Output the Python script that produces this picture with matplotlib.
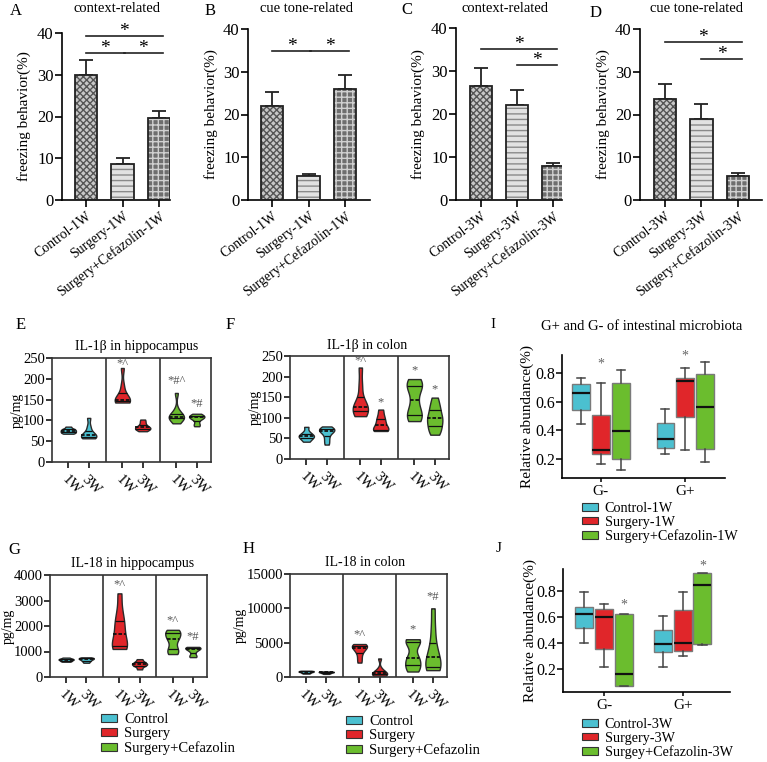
import numpy as np
import matplotlib
matplotlib.use('Agg')
import matplotlib.pyplot as plt
from matplotlib.patches import Patch

plt.rcParams['font.family'] = ['Liberation Serif', 'DejaVu Serif']
plt.rcParams['axes.linewidth'] = 1.2

# ---------------- data ----------------
groups_1w = ["Control-1W", "Surgery-1W", "Surgery+Cefazolin-1W"]
groups_3w = ["Control-3W", "Surgery-3W", "Surgery+Cefazolin-3W"]

A_mean = [30.0, 8.7, 19.7]
A_err = [3.6, 1.4, 1.7]
B_mean = [21.9, 5.5, 25.9]
B_err = [3.3, 0.6, 3.3]
C_mean = [26.6, 22.1, 7.9]
C_err = [4.2, 3.4, 0.6]
D_mean = [23.7, 19.0, 5.5]
D_err = [3.5, 3.4, 0.7]

# significance brackets: (i, j, y)
A_sig = [(0, 2, 39.4), (0, 1, 35.2), (1, 2, 35.2)]
B_sig = [(0, 1, 34.8), (1, 2, 34.8)]
C_sig = [(0, 2, 35.2), (1, 2, 31.5)]
D_sig = [(0, 2, 37.0), (1, 2, 33.0)]

violin_ticks = ["1W", "3W", "1W", "3W", "1W", "3W"]

E_data = [
    [68, 70, 72, 74, 76, 78, 80, 85],
    [57, 59, 61, 63, 66, 72, 85, 106],
    [143, 145, 146, 148, 152, 160, 183, 226],
    [74, 78, 80, 82, 84, 88, 95, 102],
    [93, 104, 106, 108, 110, 112, 125, 166],
    [86, 92, 102, 106, 108, 110, 112, 116],
]
F_data = [
    [42, 48, 52, 55, 57, 60, 66, 78],
    [35, 45, 55, 64, 68, 70, 72, 74, 79],
    [104, 110, 118, 125, 128, 140, 178, 222],
    [68, 70, 72, 78, 87, 95, 105, 120],
    [92, 100, 108, 120, 143, 170, 178, 185, 194],
    [59, 70, 80, 90, 100, 104, 120, 130, 149],
]
G_data = [
    [600, 630, 660, 680, 700, 720, 760],
    [560, 620, 660, 700, 720, 740, 770],
    [1100, 1150, 1230, 1350, 1680, 2000, 2180, 2600, 3280],
    [300, 420, 480, 500, 540, 600, 700],
    [900, 1000, 1150, 1450, 1550, 1700, 1780, 1850],
    [780, 850, 1000, 1100, 1120, 1150, 1180],
]
H_data = [
    [500, 600, 700, 750, 800, 850, 900],
    [450, 550, 620, 680, 720, 760, 800],
    [2100, 2800, 3500, 3900, 4200, 4400, 4550, 4700, 4800],
    [200, 300, 400, 500, 600, 800, 1200, 2700],
    [800, 1200, 1500, 2300, 2600, 3000, 4800, 5200, 5400, 5500],
    [1000, 1200, 1400, 2000, 2900, 3500, 5000, 7200, 10000],
]
# annotations: (index, y, text)
E_ann = [(2, 235, "*^"), (4, 194, "*#^"), (5, 140, "*#")]
F_ann = [(2, 238, "*^"), (3, 138, "*"), (4, 216, "*"), (5, 170, "*")]
G_ann = [(2, 3600, "*^"), (4, 2200, "*^"), (5, 1560, "*#")]
H_ann = [(2, 6140, "*^"), (4, 6940, "*"), (5, 11600, "*#")]

violin_legend = ["Control", "Surgery", "Surgery+Cefazolin"]

box_cats = ["G-", "G+"]
# stats per category per group: (whislo, q1, med, q3, whishi)
I_stats = {
    "G-": [(0.447, 0.544, 0.66, 0.72, 0.765),
           (0.163, 0.233, 0.26, 0.505, 0.733),
           (0.12, 0.20, 0.395, 0.73, 0.82)],
    "G+": [(0.233, 0.279, 0.342, 0.453, 0.55),
           (0.265, 0.493, 0.742, 0.767, 0.837),
           (0.18, 0.272, 0.563, 0.795, 0.877)],
}
J_stats = {
    "G-": [(0.40, 0.515, 0.62, 0.68, 0.79),
           (0.215, 0.35, 0.60, 0.66, 0.70),
           (0.068, 0.068, 0.165, 0.62, 0.625)],
    "G+": [(0.215, 0.33, 0.39, 0.50, 0.61),
           (0.30, 0.34, 0.40, 0.65, 0.79),
           (0.385, 0.39, 0.845, 0.935, 0.94)],
}
I_ann = [("G-", 1, 0.86), ("G+", 1, 0.92)]
J_ann = [("G-", 2, 0.69), ("G+", 2, 0.99)]
I_legend = ["Control-1W", "Surgery-1W", "Surgery+Cefazolin-1W"]
J_legend = ["Control-3W", "Surgery-3W", "Surgey+Cefazolin-3W"]

# ---------------- styling ----------------
COLORS = ["#4BC0D0", "#E0262A", "#6BBD2E"]
W, H = 767, 762
fig = plt.figure(figsize=(W / 100, H / 100), dpi=100)


def add_ax(l, t, r, b):
    return fig.add_axes([l / W, 1 - b / H, (r - l) / W, (b - t) / H])


def fig_text(x, y, s, **kw):
    fig.text(x / W, 1 - y / H, s, **kw)


def place_ylabel(ax, box, xpix):
    # put the y label centre at a given figure pixel column
    l, t, r, b = box
    ax.yaxis.set_label_coords((xpix - l) / (r - l), 0.5)


BAR_STYLES = [
    dict(face="#c8c8c8", hatch="xxxxx", hcol="#555555"),
    dict(face="#e2e2e2", hatch="---", hcol="#8a8a8a"),
    dict(face="#6e6e6e", hatch="+++", hcol="#d0d0d0"),
]


def bar_panel(box, xlim, means, errs, labels, sig, letter, letter_xy, title, title_xy, ylab_x):
    ax = add_ax(*box)
    x = np.arange(len(means))
    for i in range(len(means)):
        st = BAR_STYLES[i]
        ax.bar(x[i], means[i], width=0.62, color=st["face"], edgecolor=st["hcol"],
               hatch=st["hatch"], linewidth=0, zorder=2)
        ax.bar(x[i], means[i], width=0.62, facecolor="none", edgecolor="#222222",
               linewidth=1.3, zorder=3)
        ax.errorbar(x[i], means[i], yerr=[[0], [errs[i]]], fmt="none", ecolor="#222222",
                    elinewidth=1.3, capsize=5, capthick=1.3, zorder=1)
    for (i, j, y) in sig:
        a = x[i] + (0.04 if any(s[1] == i for s in sig) and j - i == 1 else 0)
        b = x[j] - (0.04 if any(s[0] == j for s in sig) and j - i == 1 else 0) + 0.1
        ax.plot([a, b], [y, y], color="#222222", lw=1.2, clip_on=False)
        ax.text((a + b) / 2, y + 1.0, "*", ha="center", va="center", fontsize=14,
                clip_on=False)
    ax.set_xlim(*xlim)
    ax.set_ylim(0, 40)
    ax.set_yticks([0, 10, 20, 30, 40])
    ax.set_xticks(x)
    ax.set_xticklabels(labels, rotation=37, ha="right", rotation_mode="anchor", fontsize=10)
    ax.tick_params(axis="y", labelsize=12, length=5, width=1.2, pad=1)
    ax.tick_params(axis="x", length=5, width=1.2, pad=2)
    for s in ["top", "right"]:
        ax.spines[s].set_visible(False)
    ax.set_ylabel("freezing behavior(%)", fontsize=11, va="center")
    place_ylabel(ax, box, ylab_x)
    fig_text(*letter_xy, letter, fontsize=12, ha="left", va="center")
    fig_text(*title_xy, title, fontsize=10.5, ha="center", va="center")
    return ax


bar_panel((62, 33, 170, 200), (-0.66, 2.3), A_mean, A_err, groups_1w, A_sig,
          "A", (10, 11), "context-related", (117, 9), 24)
bar_panel((248, 29, 370, 200), (-0.66, 2.68), B_mean, B_err, groups_1w, B_sig,
          "B", (205, 11), "cue tone-related", (307, 9), 211)
bar_panel((456, 28, 562, 200), (-0.69, 2.25), C_mean, C_err, groups_3w, C_sig,
          "C", (401, 10), "context-related", (505, 9), 418)
bar_panel((640, 29, 762, 200), (-0.68, 2.66), D_mean, D_err, groups_3w, D_sig,
          "D", (590, 13), "cue tone-related", (697, 9), 603)

# ---------------- violin panels ----------------
VPOS = [0, 1, 2.65, 3.65, 5.3, 6.3]
VCOL = [COLORS[0], COLORS[0], COLORS[1], COLORS[1], COLORS[2], COLORS[2]]


def violin_panel(box, data, ymax, yticks, ann, letter, letter_xy, title, title_xy, ylab_x):
    ax = add_ax(*box)
    parts = ax.violinplot(data, positions=VPOS, widths=0.75, showextrema=False,
                          bw_method=0.45)
    for k, body in enumerate(parts["bodies"]):
        body.set_facecolor(VCOL[k])
        body.set_edgecolor("#2a2a2a")
        body.set_linewidth(1.0)
        body.set_alpha(1)
        v = body.get_paths()[0].vertices
        right = v[v[:, 0] >= VPOS[k]]
        order = np.argsort(right[:, 1])
        ys, xs = right[order, 1], right[order, 0]
        q1, med, q3 = np.percentile(data[k], [25, 50, 75])
        for q, ls, lw in [(q1, "-", 0.9), (med, (0, (2, 1)), 1.3), (q3, "-", 0.9)]:
            w = np.interp(q, ys, xs) - VPOS[k]
            ax.plot([VPOS[k] - w, VPOS[k] + w], [q, q], color="#111111", lw=lw, ls=ls,
                    solid_capstyle="butt")
    for d in (1.83, 4.48):
        ax.axvline(d, color="#333333", lw=1.2)
    for (k, y, t) in ann:
        ax.text(VPOS[k], y, t, ha="center", va="center", fontsize=9, color="#555555")
    ax.set_xlim(-0.8, 7.0)
    ax.set_ylim(0, ymax)
    ax.set_yticks(yticks)
    ax.set_xticks(VPOS)
    ax.set_xticklabels(violin_ticks, rotation=-45, ha="left", va="top",
                       rotation_mode="anchor", fontsize=10.5)
    ax.tick_params(axis="y", labelsize=10.5, length=4, width=1.1, pad=1)
    ax.tick_params(axis="x", length=4, width=1.1, pad=4)
    for s in ax.spines.values():
        s.set_color("#333333")
    ax.set_ylabel("pg/mg", fontsize=10, va="center")
    place_ylabel(ax, box, ylab_x)
    fig_text(*letter_xy, letter, fontsize=12, ha="left", va="center")
    fig_text(*title_xy, title, fontsize=10, ha="center", va="center")
    return ax


violin_panel((52, 358, 211, 462), E_data, 250, [0, 50, 100, 150, 200, 250], E_ann,
             "E", (16, 325), "IL-1β in hippocampus", (137, 347), 17)
violin_panel((290, 356, 449, 459), F_data, 250, [0, 50, 100, 150, 200, 250], F_ann,
             "F", (226, 325), "IL-1β in colon", (367, 346), 255)
violin_panel((50, 575, 207, 677), G_data, 4000, [0, 1000, 2000, 3000, 4000], G_ann,
             "G", (8, 550), "IL-18 in hippocampus", (133, 563), 8.5)
violin_panel((290, 574, 447, 677), H_data, 15000, [0, 5000, 10000, 15000], H_ann,
             "H", (243, 549), "IL-18 in colon", (365, 563), 240)

vhandles = [Patch(facecolor=c, edgecolor="#333333", linewidth=0.8) for c in COLORS]
for (lx, ly) in [(101, 713), (346, 715)]:
    fig.legend(vhandles, violin_legend, loc="upper left",
               bbox_to_anchor=(lx / W, 1 - ly / H), frameon=False, fontsize=10.5,
               handlelength=1.1, handleheight=0.45, handletextpad=0.5,
               labelspacing=0.08, borderpad=0, borderaxespad=0)


# ---------------- box panels ----------------
def box_panel(box, ylim, xlim, stats, off, bw, ann, letter, letter_xy, legend, leg_xy,
              ylab_x, title=None, title_xy=None):
    ax = add_ax(*box)
    for ci, cat in enumerate(box_cats):
        for g in range(3):
            lo, q1, med, q3, hi = stats[cat][g]
            st = [dict(med=med, q1=q1, q3=q3, whislo=lo, whishi=hi, fliers=[])]
            ax.bxp(st, positions=[ci + (g - 1) * off], widths=bw, patch_artist=True,
                   showfliers=False,
                   boxprops=dict(facecolor=COLORS[g], edgecolor="#7a7a7a", linewidth=1.0),
                   medianprops=dict(color="#111111", linewidth=1.6),
                   whiskerprops=dict(color="#444444", linewidth=1.1),
                   capprops=dict(color="#444444", linewidth=1.1), capwidths=bw * 0.45)
    for (cat, g, y) in ann:
        ci = box_cats.index(cat)
        ax.text(ci + (g - 1) * off, y, "*", ha="center", va="center", fontsize=10,
                color="#666666")
    ax.set_xlim(*xlim)
    ax.set_ylim(*ylim)
    ax.set_yticks([0.2, 0.4, 0.6, 0.8])
    ax.set_yticklabels(["0.2", "0.4", "0.6", "0.8"])
    ax.set_xticks([0, 1])
    ax.set_xticklabels(box_cats)
    ax.tick_params(axis="y", labelsize=11.5, length=4, width=1.1, pad=1)
    ax.tick_params(axis="x", labelsize=11, length=3, width=1.1, pad=2)
    for s in ["top", "right"]:
        ax.spines[s].set_visible(False)
    ax.set_ylabel("Relative abundance(%)", fontsize=11, va="center")
    place_ylabel(ax, box, ylab_x)
    fig_text(*letter_xy, letter, fontsize=11, ha="left", va="center")
    if title:
        fig_text(*title_xy, title, fontsize=10.5, ha="center", va="center")
    handles = [Patch(facecolor=c, edgecolor="#333333", linewidth=0.8) for c in COLORS]
    fig.legend(handles, legend, loc="upper left",
               bbox_to_anchor=(leg_xy[0] / W, 1 - leg_xy[1] / H), frameon=False,
               fontsize=10.2, handlelength=1.1, handleheight=0.45, handletextpad=0.5,
               labelspacing=0.05, borderpad=0, borderaxespad=0)
    return ax


box_panel((562, 355, 725, 478), (0.067, 0.926), (-0.46, 1.47), I_stats, 0.235, 0.21, I_ann,
          "I", (490, 324), I_legend, (582, 502), 527,
          title="G+ and G- of intestinal microbiota", title_xy=(642, 326))
box_panel((563, 569, 730, 692), (0.023, 0.969), (-0.52, 1.6), J_stats, 0.25, 0.23, J_ann,
          "J", (496, 548), J_legend, (582, 718), 530)

fig.savefig("out.png", dpi=100)
